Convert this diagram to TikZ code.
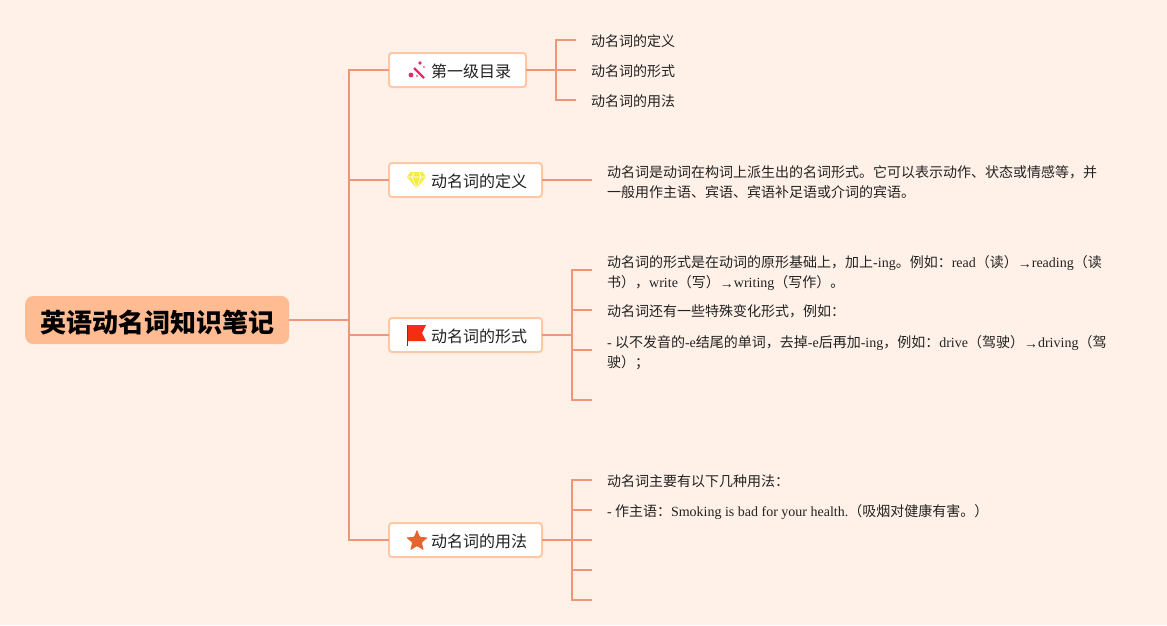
\documentclass[tikz,border=0pt]{standalone}
\usepackage{fontspec}
\setmainfont{Noto Sans CJK SC}
\newfontfamily\en{Liberation Serif}
\usepackage{xcolor}
\usetikzlibrary{positioning,shapes.geometric}
\definecolor{Paper}{RGB}{255,241,232}
\definecolor{Salmon}{RGB}{238,150,120}
\definecolor{RootFill}{RGB}{255,187,146}
\definecolor{BoxEdge}{RGB}{255,200,165}
\definecolor{Ink}{RGB}{34,34,34}
\definecolor{WandPink}{RGB}{232,40,110}
\definecolor{GemYellow}{RGB}{245,235,70}
\definecolor{FlagRed}{RGB}{245,45,20}
\definecolor{StarOrange}{RGB}{228,100,50}
\newcommand{\toarrow}{{\en\raisebox{-1pt}{→}}}
\tikzset{
  rootbox/.style={fill=RootFill,rounded corners=8pt,minimum width=264pt,minimum height=48pt,inner sep=0pt,font=\fontsize{26}{30}\selectfont\bfseries,text=black,execute at begin node={\rule{0pt}{27pt}}},
  branchbox/.style={draw=BoxEdge,line width=2pt,fill=white,rounded corners=3pt,minimum height=34pt,inner xsep=0pt,inner ysep=0pt,outer sep=0pt,font=\fontsize{16}{20}\selectfont,text=Ink,execute at begin node={\rule{0pt}{16pt}}},
  leaftext/.style={inner xsep=15pt,inner ysep=0pt,align=left,anchor=west,font=\fontsize{14}{20}\selectfont,text=Ink,execute at begin node={\rule{0pt}{15pt}}},
  link/.style={draw=Salmon,line width=2pt,line cap=butt}
}
\begin{document}
\begin{tikzpicture}[x=1pt,y=-1pt]
\fill[Paper] (0,0) rectangle (1167,625);
\useasboundingbox (0,0) rectangle (1167,625);
% root and branches
\node[rootbox,anchor=west] (root) at (25,320) {英语动名词知识笔记};
\coordinate (trunk) at (349,320);
\node[branchbox,anchor=west] (toc) at (389,70) {\hspace*{42pt}第一级目录\hspace*{15pt}};
\node[branchbox,anchor=west] (define) at (389,180) {\hspace*{42pt}动名词的定义\hspace*{15pt}};
\node[branchbox,anchor=west] (form) at (389,335) {\hspace*{42pt}动名词的形式\hspace*{15pt}};
\node[branchbox,anchor=west] (usage) at (389,540) {\hspace*{42pt}动名词的用法\hspace*{15pt}};
% first branch
\node[leaftext] (toc1) at (576,40) {动名词的定义};
\node[leaftext] (toc2) at (576,70) {动名词的形式};
\node[leaftext] (toc3) at (576,100) {动名词的用法};
% second branch
\node[leaftext] (def1) at (592,180) {\rule{0pt}{16pt}动名词是动词在构词上派生出的名词形式。它可以表示动作、状态或情感等，并\\一般用作主语、宾语、宾语补足语或介词的宾语。};
% third branch
\node[leaftext] (form1) at (592,270) {\rule{0pt}{18pt}动名词的形式是在动词的原形基础上，加上{\en -ing}。例如：{\en read}（读）\toarrow{\en reading}（读\\书），{\en write}（写）\toarrow{\en writing}（写作）。};
\node[leaftext] (form2) at (592,310) {动名词还有一些特殊变化形式，例如：};
\node[leaftext] (form3) at (592,350) {\rule{0pt}{17pt}{\en -} 以不发音的{\en -e}结尾的单词，去掉{\en -e}后再加{\en -ing}，例如：{\en drive}（驾驶）\toarrow{\en driving}（驾\\驶）；};
\coordinate (form4) at (592,400);
% fourth branch
\node[leaftext] (use1) at (592,480) {动名词主要有以下几种用法：};
\node[leaftext] (use2) at (592,510) {{\en -} 作主语：{\en Smoking is bad for your health.}（吸烟对健康有害。）};
\coordinate (use3) at (592,540);
\coordinate (use4) at (592,570);
\coordinate (use5) at (592,600);
% connectors
\draw[link] (root.east)--(trunk);
\draw[link] (toc.west)-|(trunk);
\draw[link] (define.west)-|(trunk);
\draw[link] (form.west)-|(trunk);
\draw[link] (usage.west)-|(trunk);
\draw[link] (toc.east)--(toc2.west);
\draw[link] (toc1.west)-|(556,100)--(toc3.west);
\draw[link] (define.east)--(def1.west);
\draw[link] (form.east)--(572,335);
\draw[link] (form1.west)-|(572,400)--(form4);
\draw[link] (572,310)--(form2.west);
\draw[link] (572,350)--(form3.west);
\draw[link] (usage.east)--(use3);
\draw[link] (use1.west)-|(572,600)--(use5);
\draw[link] (572,510)--(use2.west);
\draw[link] (572,570)--(use4);
% icons
\draw[WandPink,line width=2.2pt] (414,68)--(424,78);
\fill[WandPink] (420,63) circle (1.8pt) (411,75) circle (2.4pt) (417,76) circle (0.9pt) (424,67) circle (0.9pt);
\fill[GemYellow] (410.5,172)--(422.5,172)--(426,177)--(416.5,188.5)--(407,177)--cycle;
\draw[white,line width=0.6pt] (407.5,177)--(425.5,177) (412,177)--(416.5,188) (421,177)--(416.5,188) (412,177)--(414,172.5) (421,177)--(419,172.5);
\fill[FlagRed] (407.5,325)--(426,325)--(422,333)--(426,341)--(407.5,341)--cycle;
\draw[FlagRed!70!black,line width=1.2pt] (407.5,325)--(407.5,346);
\node[star,star points=5,star point ratio=2.3,fill=StarOrange,inner sep=0pt,minimum size=23pt,rounded corners=1pt] (usageicon) at (417,541) {};
\end{tikzpicture}
\end{document}
